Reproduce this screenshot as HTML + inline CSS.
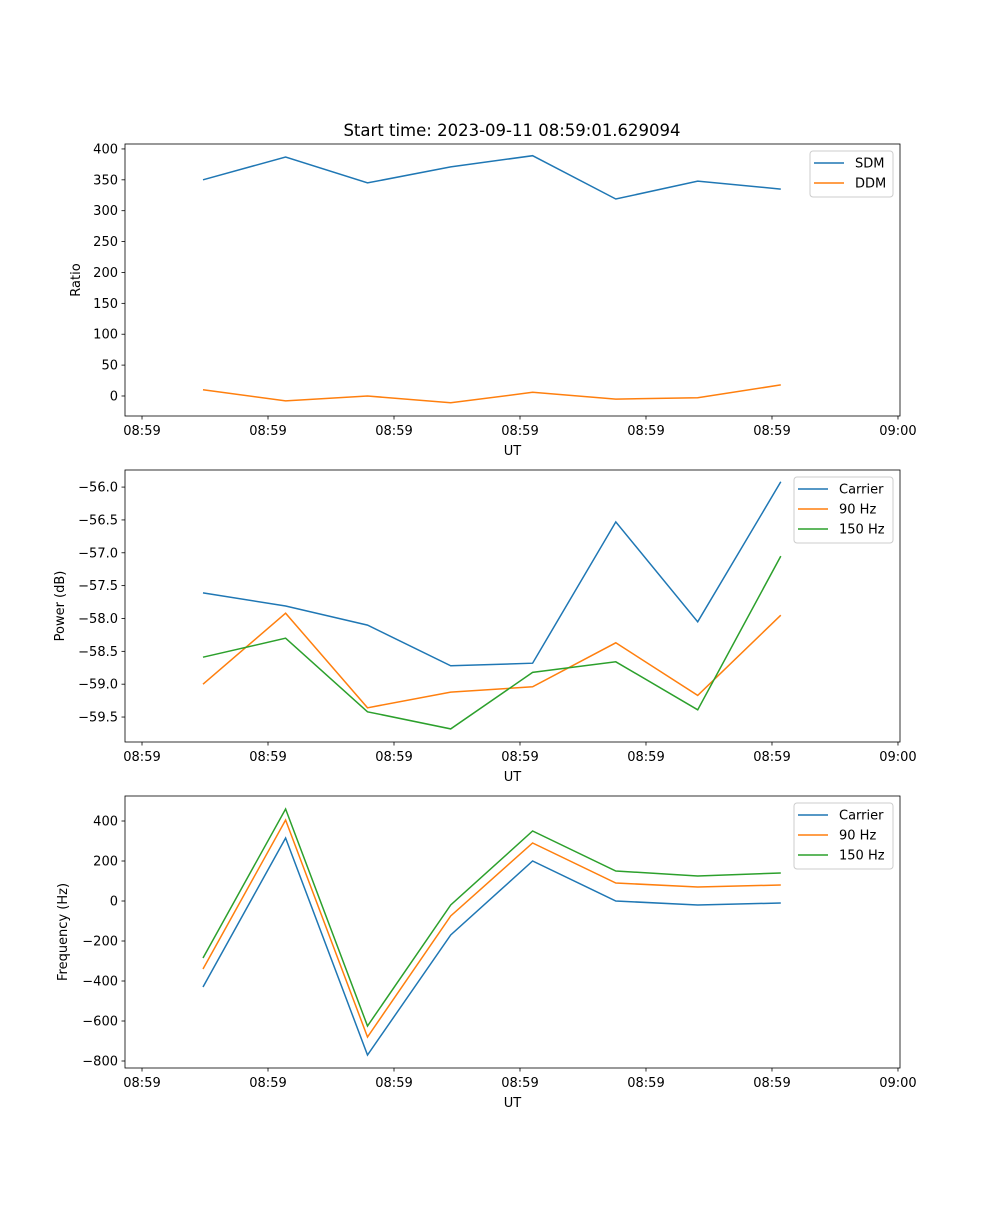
<!DOCTYPE html>
<html><head><meta charset="utf-8"><style>
body{margin:0;background:#fff}
svg text{font-family:"DejaVu Sans","Liberation Sans",sans-serif;font-size:13px;fill:#000}
</style></head><body>
<svg id="chart" width="1000" height="1200" xmlns="http://www.w3.org/2000/svg">
<text x="512" y="136" text-anchor="middle" style="font-size:16.5px">Start time: 2023-09-11 08:59:01.629094</text>
</svg>
<script>
const times = [4.84, 11.4, 17.9, 24.5, 31.0, 37.6, 44.1, 50.7];
const xTickValues = [0, 10, 20, 30, 40, 50, 60];
const xTickLabels = ["08:59","08:59","08:59","08:59","08:59","08:59","09:00"];
const sdm = [350, 387, 345, 371, 389, 319, 348, 335];
const ddm = [10, -8, 0, -11, 6, -5, -3, 18];
const powCarrier = [-57.61, -57.81, -58.10, -58.72, -58.68, -56.53, -58.05, -55.92];
const pow90 = [-59.00, -57.92, -59.36, -59.12, -59.04, -58.37, -59.17, -57.95];
const pow150 = [-58.59, -58.30, -59.42, -59.68, -58.82, -58.66, -59.39, -57.05];
const freqCarrier = [-430, 315, -770, -170, 200, 0, -20, -10];
const freq90 = [-340, 405, -680, -75, 290, 90, 70, 80];
const freq150 = [-285, 460, -625, -20, 350, 150, 125, 140];
const ratioTicks = [0, 50, 100, 150, 200, 250, 300, 350, 400];
const powerTicks = [-59.5, -59.0, -58.5, -58.0, -57.5, -57.0, -56.5, -56.0];
const freqTicks = [-800, -600, -400, -200, 0, 200, 400];

const svg = document.getElementById('chart');
const NS = 'http://www.w3.org/2000/svg';
const L = 125, R = 900;
const xMin = -1.35, xMax = 60.16;
function xs(t){ return L + (t - xMin) / (xMax - xMin) * (R - L); }
function mk(tag, attrs, parent){
  const e = document.createElementNS(NS, tag);
  for (const k in attrs) e.setAttribute(k, attrs[k]);
  (parent || svg).appendChild(e);
  return e;
}
const colors = ['#1f77b4', '#ff7f0e', '#2ca02c'];

function panel(cfg){
  const {top, bottom, yMin, yMax, ticks, fmt, series, names, ylabel, key, legW} = cfg;
  const g = mk('g', {});
  
  
  const ys = v => bottom - (v - yMin) / (yMax - yMin) * (bottom - top);
  ticks.forEach(v => {
    const y = ys(v);
    const tl = mk('line', {x1: L-3.5, x2: L, y1: y, y2: y, stroke: '#000', 'stroke-width': 0.8}, g);
    
    
    const t = mk('text', {x: L-7, y: y+4.5, 'text-anchor': 'end'}, g);
    t.textContent = fmt(v);
    
    
  });
  xTickValues.forEach((v, i) => {
    const x = xs(v);
    const tl = mk('line', {x1: x, x2: x, y1: bottom, y2: bottom+3.5, stroke: '#000', 'stroke-width': 0.8}, g);
    
    
    const t = mk('text', {x: x, y: bottom+19, 'text-anchor': 'middle'}, g);
    t.textContent = xTickLabels[i];
    
    
  });
  series.forEach((s, si) => {
    const d = s.map((v, i) => (i ? 'L' : 'M') + xs(times[i]).toFixed(1) + ',' + ys(v).toFixed(1)).join(' ');
    const p = mk('path', {d: d, fill: 'none', stroke: colors[si], 'stroke-width': 1.5}, g);
    
    
  });
  const frame = mk('rect', {x: L, y: top, width: R-L, height: bottom-top, fill: 'none', stroke: '#000', 'stroke-width': 0.8}, g);
  
  
  const xl = mk('text', {x: (L+R)/2, y: bottom+39, 'text-anchor': 'middle'}, g);
  xl.textContent = 'UT';
  
  
  const yl = mk('text', {x: 0, y: 0, 'text-anchor': 'middle', transform: 'translate(' + cfg.ylx + ',' + ((top+bottom)/2) + ') rotate(-90)'}, g);
  yl.textContent = ylabel;
  
  
  const lx = R - 7 - legW, ly = top + 7, lh = 6 + names.length * 20;
  const lg = mk('g', {}, g);
  
  
  mk('rect', {x: lx, y: ly, width: legW, height: lh, rx: 3, fill: '#fff', 'fill-opacity': 0.8, stroke: '#ccc', 'stroke-width': 1}, lg);
  names.forEach((n, i) => {
    const yy = ly + 12 + i * 20;
    mk('line', {x1: lx+4, x2: lx+34, y1: yy, y2: yy, stroke: colors[i], 'stroke-width': 1.5}, lg);
    const t = mk('text', {x: lx+45, y: yy+4.5}, lg);
    t.textContent = n;
    
    
  });
}

panel({key: 'ratio', top: 144, bottom: 416, yMin: -32.4, yMax: 408, ticks: ratioTicks, fmt: v => String(v),
  series: [sdm, ddm], names: ['SDM', 'DDM'], ylabel: 'Ratio', ylx: 80, legW: 83});
panel({key: 'power', top: 470, bottom: 742, yMin: -59.88, yMax: -55.74, ticks: powerTicks, fmt: v => '\u2212' + Math.abs(v).toFixed(1),
  series: [powCarrier, pow90, pow150], names: ['Carrier', '90 Hz', '150 Hz'], ylabel: 'Power (dB)', ylx: 64, legW: 99});
panel({key: 'frequency', top: 796, bottom: 1068, yMin: -835, yMax: 525, ticks: freqTicks, fmt: v => (v < 0 ? '\u2212' : '') + Math.abs(v),
  series: [freqCarrier, freq90, freq150], names: ['Carrier', '90 Hz', '150 Hz'], ylabel: 'Frequency (Hz)', ylx: 67, legW: 99});
</script>
</body></html>
